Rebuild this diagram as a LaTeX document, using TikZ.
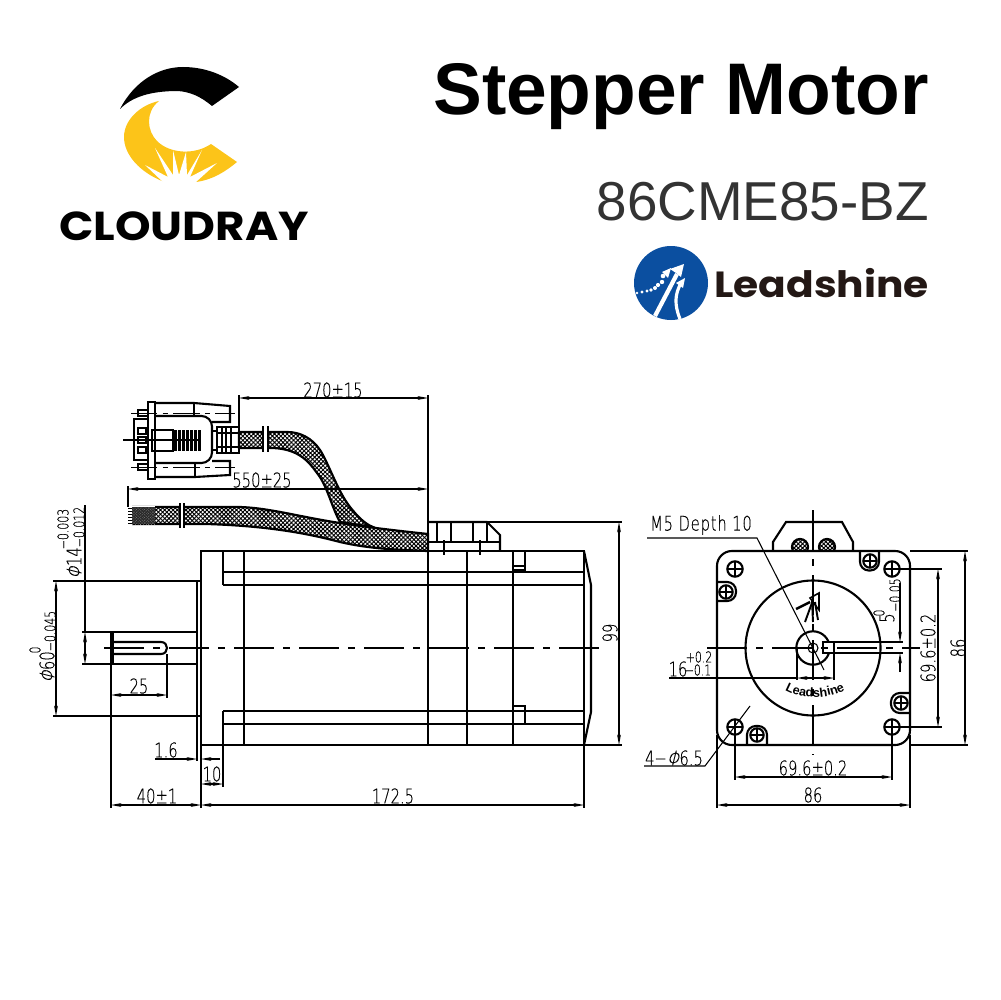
\documentclass[tikz,border=0pt]{standalone}
\usepackage{fontspec}
\usetikzlibrary{arrows.meta,patterns.meta,decorations.text}
\setmainfont{Liberation Sans}
\newfontfamily\dimfont[FakeStretch=0.73,FakeBold=0.25]{DejaVu Sans ExtraLight}
\newfontfamily\dimslant[FakeStretch=0.73,FakeBold=0.25,FakeSlant=0.25]{DejaVu Sans ExtraLight}
\newfontfamily\namefont[FakeStretch=1.12]{Poppins}
\newcommand{\dia}{{\dimslant Φ}}
\definecolor{logoyellow}{HTML}{FCC419}
\definecolor{logoblue}{HTML}{0B4FA0}
\definecolor{logoink}{HTML}{231815}
\tikzset{
  outline/.style={line width=1.2pt},
  thin line/.style={line width=0.6pt},
  centre line/.style={line width=0.6pt, dash pattern=on 23pt off 5pt on 4pt off 5pt},
  dim/.style={line width=0.6pt, {Stealth[length=6pt,width=2.2pt]}-{Stealth[length=6pt,width=2.2pt]}},
  dimto/.style={line width=0.6pt, -{Stealth[length=6pt,width=2.2pt]}},
  dimtext/.style={inner sep=0pt, font=\dimfont\fontsize{11.5}{12}\selectfont},
  dimsmall/.style={inner sep=0pt, font=\dimfont\fontsize{8.5}{9}\selectfont},
  braid/.style={line width=1.25pt, pattern={Hatch[angle=45,distance=1.7pt,line width=0.55pt]}},
  braiddark/.style={pattern={Hatch[angle=45,distance=1.1pt,line width=0.75pt]}}
}
\begin{document}
\begin{tikzpicture}[x=0.02cm, y=-0.02cm]
\useasboundingbox (0,0) rectangle (1000,1000);

% Cloudray logo
\fill[black] (120,109) .. controls (135,80) and (160,67) .. (183,67) .. controls (205,67) and (225,75) .. (239,87) -- (212,106) .. controls (200,96) and (190,92) .. (178,91) .. controls (150,91) and (132,97) .. (120,109) -- cycle;
\fill[logoyellow] (159,101) .. controls (145,112) and (147,131) .. (157,141) .. controls (170,154) and (195,155) .. (211,144) -- (237,162) .. controls (225,172) and (212,180) .. (196,182) -- (162,181) .. controls (140,172) and (124,155) .. (124,137) .. controls (124,120) and (140,105) .. (159,101) -- cycle;
\fill[white] (163,182) -- (145,165) -- (168,177) -- (155,148) -- (173,175) -- (173,150) -- (179,175) -- (186,152) -- (187,175) -- (202,150) -- (190,177) -- (217,163) -- (196,182) -- (190,192) -- (170,192) -- cycle;
\node[inner sep=0pt, font=\namefont\bfseries\fontsize{23}{23}\selectfont] (cloudray) at (184,226) {CLOUDRAY};

% Titles
\node[inner sep=0pt, anchor=base east, font=\bfseries\fontsize{41.6}{42}\selectfont] (title) at (929,115) {Stepper Motor};
\node[inner sep=0pt, anchor=base east, text=black!80, font=\fontsize{31.2}{31}\selectfont] (model) at (929,220) {86CME85-BZ};

% Leadshine logo
\fill[logoblue] (671,283) circle (37);
\draw[white, line width=2.4pt] (655,316) -- (677,274);
\fill[white] (684,264) -- (670,269) -- (676,273) -- (681,277) -- cycle;
\draw[white, line width=1.8pt] (680,319) .. controls (674,304) and (675,294) .. (681,283);
\fill[white] (685,278) -- (676,283) -- (683,288) -- cycle;
\foreach \a/\b/\r in {637/293/1.4,642/292/1.6,647/291/1.7,651/290/1.9,655/288/2,658/285/2.1,662/282/2.2,663/276/2.3}
  \fill[white] (\a,\b) circle (\r);
\fill[white] (671,268) -- (662,272) -- (668,278) -- cycle;
\node[inner sep=0pt, anchor=base west, text=logoink, font=\namefont\bfseries\fontsize{20.7}{21}\selectfont] (leadshine) at (714,297) {Leadshine};

% D-sub plug on the cable
\draw[outline] (148,402) rectangle (155,479);
\draw[outline] (134,419) rectangle (148,460);
\foreach \y in {428,437,447}
  \draw[outline] (138,\y) rectangle (146,\y+6);
\draw[outline] (138,410) rectangle (148,416);
\draw[outline] (138,464) rectangle (148,470);
\draw[outline] (155,403) -- (194,403) -- (230,406) -- (230,422) -- (212,422);
\draw[outline] (194,403) -- (194,416);
\draw[outline] (155,477) -- (195,477) -- (230,475) -- (230,461) -- (212,461);
\draw[outline] (195,477) -- (195,463);
\draw[outline, rounded corners=6pt] (155,416) -- (212,416) -- (212,463) -- (155,463);
\draw[outline] (152,430) rectangle (173,451);
\fill[black] (173,430) rectangle (201,451);
\foreach \x in {177,181,185,189,193,197}
  \draw[white, line width=0.4pt] (\x,430) -- (\x,451);
\draw[outline] (212,431) rectangle (217,450);
\draw[outline] (217,427) rectangle (239,453);
\foreach \x in {222,226,231}
  \draw[thin line] (\x,427) -- (\x,453);
\foreach \y in {433,447}
  \draw[thin line] (217,\y) -- (239,\y);
\draw[thin line] (123,440) -- (200,440);
\draw[line width=0.55pt, dash pattern=on 15pt off 3pt on 3pt off 3pt] (131,413) -- (235,413);
\draw[line width=0.55pt, dash pattern=on 15pt off 3pt on 3pt off 3pt] (131,467) -- (235,467);

% Cables
\draw[braid] (239,432) -- (287,432) .. controls (300,432) and (312,438) .. (320,450) .. controls (328,462) and (338,492) .. (350,507) .. controls (358,517) and (365,524) .. (373,527) -- (340,522) .. controls (332,508) and (327,485) .. (317,473) .. controls (308,460) and (297,449) .. (273,448) -- (239,448) -- cycle;
\draw[braid, fill=white, postaction={braid}] (132,507) -- (240,507) .. controls (270,508) and (300,517) .. (340,523) .. controls (365,527) and (400,531) .. (428,534) -- (428,551) .. controls (400,550) and (370,549) .. (340,542) .. controls (310,534) and (270,526) .. (207,524) -- (132,524);
\fill[white] (132,506) rectangle (155,525);
\fill[braiddark] (132,507) rectangle (155,524);
\fill[black!70, opacity=0.55] (132,507) rectangle (155,524);
\foreach \y in {508,511,514,517,520,523}
  \draw[line width=0.4pt] (128,\y) -- (132,\y);
\fill[white] (180,502) rectangle (184,529);
\fill[white] (263,425) rectangle (268,453);
\foreach \x/\t/\b in {180/503/528,184/503/528,263/426/452,268/426/452}
  \draw[line width=1pt] (\x,\t) -- (\x,\b);

% Motor body, side view
\draw[outline] (201,551) rectangle (584,745);
\draw[outline] (197,581) rectangle (201,716);
\draw[outline] (584,551) -- (591,585) -- (591,712) -- (584,745);
\foreach \y in {572,585,711,724}
  \draw[outline] (223,\y) -- (584,\y);
\draw[outline] (223,551) -- (223,585);
\draw[outline] (223,711) -- (223,745);
\foreach \x in {244,428,467,513}
  \draw[outline] (\x,551) -- (\x,745);
\draw[outline] (513,551) rectangle (525,570);
\draw[thin line] (513,566) -- (525,566);
\draw[outline] (513,706) rectangle (525,724);
\draw[thin line] (513,711) -- (525,711);

% Shaft and key way
\draw[outline] (111,632) rectangle (197,664);
\draw[outline] (113,632) -- (113,664);
\draw[outline] (113,642) -- (161,642) .. controls (169,642) and (169,654) .. (161,654) -- (113,654);

% Connector block
\draw[outline] (428,522) -- (487,522) -- (500,535) -- (500,551);
\draw[outline] (428,522) -- (428,542) -- (500,542);
\foreach \x in {437,451,473,487}
  \draw[outline] (\x,522) -- (\x,542);
\foreach \x in {444,480}
  \draw[thin line] (\x,540) -- (\x,555);

% Axis of the side view
\draw[centre line] (104,648) -- (608,648);

% Dimensions of the cables
\draw[thin line] (239,395) -- (239,430);
\draw[thin line] (428,395) -- (428,522);
\draw[dim] (239,398) -- (428,398);
\node[dimtext] (len270) at (333,390) {270±15};
\draw[thin line] (128,486) -- (128,507);
\draw[dim] (128,489) -- (428,489);
\node[dimtext] (len550) at (262,480) {550±25};

% Dimensions on the left
\draw[thin line] (82,632) -- (111,632);
\draw[thin line] (82,664) -- (111,664);
\draw[thin line] (85,505) -- (85,632);
\draw[dim] (85,632) -- (85,664);
\node[dimtext, rotate=90] (dia14) at (74,563) {\dia14};
\node[dimsmall, rotate=90] (dia14a) at (63,529) {−0.003};
\node[dimsmall, rotate=90] (dia14b) at (79,527) {−0.012};
\draw[thin line] (53,581) -- (197,581);
\draw[thin line] (53,716) -- (197,716);
\draw[dim] (56,581) -- (56,716);
\node[dimtext, rotate=90] (dia60) at (47,667) {\dia60};
\node[dimsmall, rotate=90] (dia60a) at (35,650) {0};
\node[dimsmall, rotate=90] (dia60b) at (50,631) {−0.045};

% Dimensions below the side view
\draw[thin line] (111,664) -- (111,808);
\draw[thin line] (167,654) -- (167,698);
\draw[dim] (111,695) -- (167,695);
\node[dimtext] (len25) at (139,686) {25};
\draw[thin line] (197,716) -- (197,761);
\draw[thin line] (201,745) -- (201,808);
\draw[thin line] (223,745) -- (223,787);
\draw[thin line] (584,745) -- (584,808);
\draw[dimto] (155,759) -- (197,759);
\draw[dimto] (220,759) -- (201,759);
\node[dimtext] (len16) at (166,750) {1.6};
\draw[dim] (201,784) -- (223,784);
\node[dimtext] (len10) at (212,774) {10};
\draw[dim] (111,805) -- (201,805);
\node[dimtext] (len40) at (157,796) {40±1};
\draw[dim] (201,805) -- (584,805);
\node[dimtext] (len172) at (393,796) {172.5};

% Height on the right
\draw[thin line] (487,522) -- (622,522);
\draw[thin line] (584,745) -- (622,745);
\draw[dim] (619,522) -- (619,745);
\node[dimtext, rotate=90] (hgt99) at (610,633) {99};

% Front view
\draw[outline] (773,551) -- (773,542) -- (786,522) -- (842,522) -- (853,542) -- (853,551);
\begin{scope}
  \clip (760,520) rectangle (870,551);
  \foreach \x in {800,827}
    \draw[braid] (\x,547) circle (8);
\end{scope}
\draw[outline, rounded corners=8.5pt] (717,551) rectangle (910,745);
\draw[outline] (813,648) circle (67.5);
\foreach \a/\b in {735/569,892/569,735/727,892/727} {
  \draw[outline] (\a,\b) circle (7.7);
  \draw[thin line] (\a-7.7,\b) -- (\a+7.7,\b);
  \draw[thin line] (\a,\b-7.7) -- (\a,\b+7.7);
}
\draw[outline, rounded corners=5pt] (860,551) -- (860,570.5) -- (879,570.5) -- (879,551);
\draw[outline, rounded corners=5pt] (717,582) -- (736,582) -- (736,601) -- (717,601);
\draw[outline, rounded corners=5pt] (910,693) -- (891,693) -- (891,713) -- (910,713);
\draw[outline, rounded corners=5pt] (747,745) -- (747,726) -- (767,726) -- (767,745);
\foreach \a/\b in {870/561,726/592,901/703,757/735} {
  \draw[outline] (\a,\b) circle (6.7);
  \draw[line width=1.4pt] (\a-6.7,\b) -- (\a+6.7,\b);
  \draw[line width=1.4pt] (\a,\b-6.7) -- (\a,\b+6.7);
}
\draw[outline] (813,648) circle (16.7);
\draw[thin line] (813,648) circle (5);
\draw[outline, fill=white] (823,642) rectangle (834,653);
\draw[outline] (834,642) -- (903,642);
\draw[outline] (834,653) -- (903,653);
\draw[centre line] (813,510) -- (813,755);
\draw[centre line] (707,648) -- (920,648);

% Logo on the flange
\draw[line width=0.9pt] (819,593) -- (810,598) -- (819,610) -- cycle;
\draw[line width=1.1pt] (813,600) -- (805,622);
\draw[line width=1.1pt] (812,600) -- (813,622);
\draw[line width=1.1pt] (815,602) -- (818,620);
\draw[line width=1.4pt] (796,609) .. controls (802,606) and (806,604) .. (810,602);
\path[decorate, decoration={text along path, text={|\bfseries\fontsize{7.2}{8}\selectfont|Leadshine}, text align=center}] (783,689) .. controls (800,700) and (828,700) .. (847,689);

% Dimensions of the front view
\coordinate (m5a) at (647,538);
\coordinate (m5b) at (757,538);
\coordinate (m5c) at (824,670);
\draw[thin line] (m5a) -- (m5b) -- (m5c);
\node[dimtext, font=\dimfont\fontsize{11.5}{12}\selectfont\addfontfeature{LetterSpace=4}] (m5) at (701,525) {M5 Depth 10};
\coordinate (hole1) at (644,766);
\coordinate (hole2) at (705,766);
\coordinate (hole3) at (750,706);
\draw[thin line] (hole1) -- (hole2) -- (hole3);
\node[dimtext] (holes) at (674,758) {4−\dia6.5};
\draw[thin line] (797,648) -- (797,680);
\draw[thin line] (834,653) -- (834,680);
\draw[thin line] (669,678) -- (797,678);
\draw[dim] (797,678) -- (834,678);
\node[dimtext] (bore16) at (678,669) {16};
\node[dimsmall] (bore16a) at (699,657) {+0.2};
\node[dimsmall] (bore16b) at (698,670) {−0.1};
\draw[dimto] (900,583) -- (900,642);
\draw[dimto] (900,672) -- (900,653);
\node[dimtext, rotate=90] (key5) at (887,618) {5};
\node[dimsmall, rotate=90] (key5a) at (879,613) {0};
\node[dimsmall, rotate=90] (key5b) at (895,595) {−0.05};
\draw[thin line] (892,569) -- (942,569);
\draw[thin line] (892,727) -- (942,727);
\draw[dim] (938,569) -- (938,727);
\node[dimtext, rotate=90] (pitchv) at (928,648) {69.6±0.2};
\draw[thin line] (910,551) -- (968,551);
\draw[thin line] (910,745) -- (968,745);
\draw[dim] (965,551) -- (965,745);
\node[dimtext, rotate=90] (sidev) at (958,648) {86};
\draw[thin line] (735,727) -- (735,780);
\draw[thin line] (892,727) -- (892,780);
\draw[dim] (735,777) -- (892,777);
\node[dimtext] (pitchh) at (813,768) {69.6±0.2};
\draw[thin line] (717,735) -- (717,808);
\draw[thin line] (910,735) -- (910,808);
\draw[dim] (717,805) -- (910,805);
\node[dimtext] (sideh) at (813,795) {86};
\end{tikzpicture}
\end{document}
